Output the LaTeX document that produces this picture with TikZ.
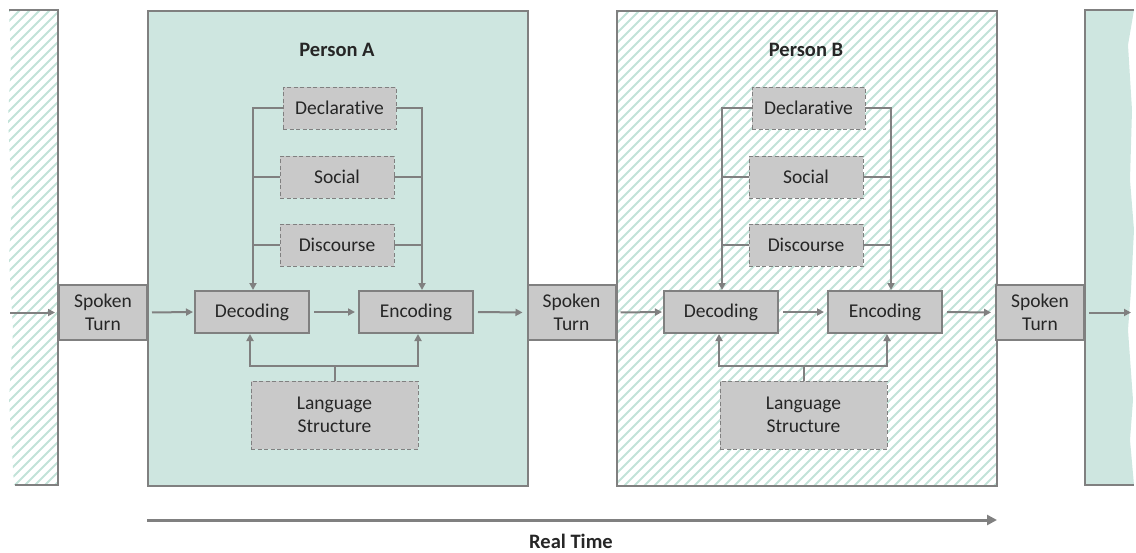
\documentclass[tikz,border=0pt]{standalone}
\usepackage{fontspec}
\setmainfont{Carlito}[Ligatures={NoCommon,NoRare,NoDiscretionary}]
\usetikzlibrary{arrows.meta,calc}
\definecolor{teal1}{HTML}{CEE6E0}
\definecolor{hatch}{HTML}{C2E2D8}
\definecolor{bord}{HTML}{808080}
\definecolor{boxf}{HTML}{C9C9C9}
\definecolor{txt}{HTML}{262626}
\tikzset{
  solidbox/.style={draw=bord,line width=2pt,fill=boxf,inner sep=0pt,text=txt,align=center,font=\fontsize{19.5}{22.5}\selectfont},
  dashbox/.style={draw=bord,line width=0.9pt,dash pattern=on 4pt off 2.5pt,fill=boxf,inner sep=0pt,text=txt,align=center,font=\fontsize{19.5}{22.5}\selectfont},
  conn/.style={draw=bord,line width=2pt},
  arr/.style={conn,-{Triangle[length=7pt,width=7pt]}},
  frame/.style={draw=bord,line width=1.5pt},
  title/.style={font=\bfseries\fontsize{20.5}{24}\selectfont,text=txt},
}
\begin{document}
\begin{tikzpicture}[x=1pt,y=-1pt]
\useasboundingbox (0,0) rectangle (1136,552);
% left torn strip (hatched)
\begin{scope}
\clip (58,10) -- (9,10) -- (11,60) -- (8,120) -- (12,200) -- (9,260) -- (13,330) -- (9,400) -- (14,485) -- (58,485) -- cycle;
\foreach \i in {-60,-50,...,540} {\draw[hatch,line width=1.9pt] (0,\i+60) -- (70,\i-10);}
\end{scope}
\draw[frame] (9,10) -- (58,10) -- (58,485) -- (15,485);
% right torn strip (solid)
\fill[teal1] (1085,10) -- (1134,10) -- (1128,45) -- (1132,110) -- (1130,180) -- (1134,230) -- (1131,290) -- (1128,330) -- (1133,400) -- (1130,440) -- (1134,485) -- (1085,485) -- cycle;
\draw[frame] (1134,10) -- (1085,10) -- (1085,485) -- (1134,485);
% Person A box
\node[frame,fill=teal1,minimum width=380pt,minimum height=475pt,inner sep=0pt,anchor=north west] (pa) at (147,10) {};
% Person B box (hatched)
\begin{scope}
\clip (616,10) rectangle (996,485);
\foreach \i in {-400,-390,...,540} {\draw[hatch,line width=1.9pt] (600,\i+420) -- (1010,\i+10);}
\end{scope}
\node[frame,minimum width=380pt,minimum height=475pt,inner sep=0pt,anchor=north west] (pb) at (616,10) {};
\node[title] (ta) at (337,50) {Person A};
\node[title] (tb) at (806,50) {Person B};
% spoken turns
\node[solidbox,minimum width=88pt,minimum height=55pt] (st1) at (103,312.5) {Spoken\\Turn};
\node[solidbox,minimum width=88pt,minimum height=55pt] (st2) at (571.5,312.5) {Spoken\\Turn};
\node[solidbox,minimum width=88pt,minimum height=55pt] (st3) at (1040,312.5) {Spoken\\Turn};
\coordinate (in1) at (10,312.5);
\coordinate (out3) at (1131,312.5);
\draw[arr,shorten >=3pt] (in1) -- (st1.west);
\draw[arr,shorten <=4pt] (st3.east) -- (out3);
% persons
\foreach \p/\o/\prev/\next in {A/0/st1/st2,B/469/st2/st3} {
  \node[solidbox,minimum width=114pt,minimum height=42pt] (dec\p) at (252+\o,312) {Decoding};
  \node[solidbox,minimum width=114pt,minimum height=42pt] (enc\p) at (416+\o,312) {Encoding};
  \node[dashbox,minimum width=113pt,minimum height=42pt] (decl\p) at (339.5+\o,108) {Declarative};
  \node[dashbox,minimum width=114pt,minimum height=42pt] (soc\p) at (337+\o,177) {Social};
  \node[dashbox,minimum width=114pt,minimum height=42pt] (dis\p) at (337+\o,245) {Discourse};
  \node[dashbox,minimum width=167pt,minimum height=68pt] (lang\p) at (334.5+\o,415) {Language\\Structure};
  \coordinate (dn\p) at ([xshift=1pt]dec\p.north);
  \coordinate (en\p) at ([xshift=6pt]enc\p.north);
  \draw[arr] (decl\p.west) -| (dn\p);
  \draw[arr] (decl\p.east) -| (en\p);
  \draw[conn] (soc\p.west) -- (soc\p.west -| dn\p);
  \draw[conn] (dis\p.west) -- (dis\p.west -| dn\p);
  \draw[conn] (soc\p.east) -- (soc\p.east -| en\p);
  \draw[conn] (dis\p.east) -- (dis\p.east -| en\p);
  \draw[conn] (lang\p.north) -- ++(0,-15) coordinate (lj\p);
  \draw[arr] (lj\p) -| ([xshift=-2pt]dec\p.south);
  \draw[arr] (lj\p) -| ([xshift=2pt]enc\p.south);
  \draw[arr,shorten <=4pt,shorten >=1pt] (\prev.east) -- (dec\p.west);
  \draw[arr,shorten <=4pt,shorten >=3pt] (dec\p.east) -- (enc\p.west);
  \draw[arr,shorten <=4pt,shorten >=4pt] (enc\p.east) -- (\next.west);
}
% real time
\coordinate (rt0) at (147,520);
\coordinate (rt1) at (997,520);
\draw[draw=bord,line width=3pt,-{Triangle[length=10pt,width=10pt]}] (rt0) -- (rt1);
\node[title] (rt) at (571,541) {Real Time};
\end{tikzpicture}
\end{document}
